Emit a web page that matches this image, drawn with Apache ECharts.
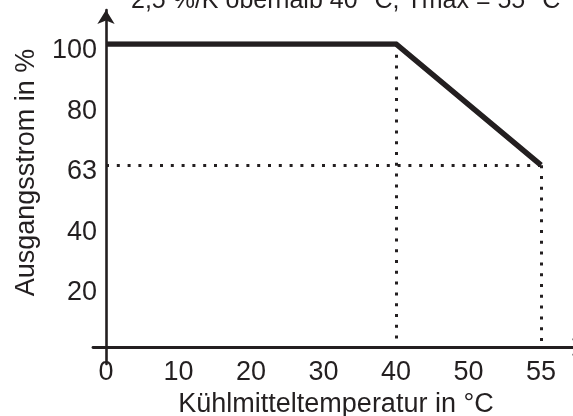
<!DOCTYPE html>
<html><head><meta charset="utf-8">
<script src="https://cdn.jsdelivr.net/npm/echarts@6/dist/echarts.min.js"></script>
<style>html,body{margin:0;padding:0;background:#fff}#c{width:573px;height:416px}</style>
</head><body><div id="c"></div>
<script>
// ---- data ----
const titleText = '2,5 %/K oberhalb 40 °C, Tmax = 55 °C';
const xName = 'Kühlmitteltemperatur in °C';
const yName = 'Ausgangsstrom in %';
const xCategories = ['0', '10', '20', '30', '40', '50', '55'];
const yCategories = ['0', '20', '40', '63', '80', '100'];
const curveTemps = ['0', '40', '55'];
const curveCurrent = ['100', '100', '63'];

// ---- chart ----
const ink = '#231f20';
const font = "'Liberation Sans', Arial, sans-serif";
const curve = curveTemps.map((t, i) => [t, curveCurrent[i]]);
const dotted = { type: [3, 7.8], width: 3, color: ink, cap: 'butt' };

const chart = echarts.init(document.getElementById('c'), null, { renderer: 'canvas' });
chart.setOption({
  animation: false,
  backgroundColor: '#fff',
  textStyle: { fontFamily: font, color: ink },
  title: {
    text: titleText, left: 131, top: -11, padding: 0,
    textStyle: { fontFamily: font, fontSize: 25, fontWeight: 'normal', color: ink }
  },
  grid: [
    { left: 106, right: 32, top: 44, bottom: 69, containLabel: false, outerBoundsMode: 'none' },
    { left: 93, width: 493, top: 10, bottom: 52, containLabel: false, outerBoundsMode: 'none' }
  ],
  xAxis: [
    {
      gridIndex: 0, type: 'category', data: xCategories, boundaryGap: false,
      axisLine: { show: false }, axisTick: { show: false }, splitLine: { show: false },
      axisLabel: { fontSize: 27, color: ink, margin: 12, fontFamily: font },
      name: xName, nameLocation: 'middle', nameGap: 41,
      nameTextStyle: { fontSize: 27, color: ink, fontFamily: font, padding: [0, 0, 0, 25] }
    },
    {
      gridIndex: 1, type: 'value', min: 0, max: 1, offset: -17,
      axisLabel: { show: false }, axisTick: { show: false }, splitLine: { show: false },
      axisLine: { show: true, onZero: false, symbol: ['none', 'arrow'], symbolSize: [13, 14],
        lineStyle: { color: ink, width: 2.8 } }
    }
  ],
  yAxis: [
    {
      gridIndex: 0, type: 'category', data: yCategories, boundaryGap: false,
      axisLine: { show: false }, axisTick: { show: false }, splitLine: { show: false },
      axisLabel: { fontSize: 27, color: ink, margin: 9, fontFamily: font,
        verticalAlign: 'top', lineHeight: 13,
        formatter: v => (v === yCategories[0] ? '' : v) },
      name: yName, nameLocation: 'middle', nameGap: 66,
      nameTextStyle: { fontSize: 27, color: ink, fontFamily: font, padding: [0, 0, 0, 46] }
    },
    {
      gridIndex: 1, type: 'value', min: 0, max: 1, offset: -13,
      axisLabel: { show: false }, axisTick: { show: false }, splitLine: { show: false },
      axisLine: { show: true, onZero: false, symbol: ['none', 'arrow'], symbolSize: [13, 14],
        lineStyle: { color: ink, width: 2.6 } }
    }
  ],
  series: [{
    type: 'line', xAxisIndex: 0, yAxisIndex: 0,
    data: curve, symbol: 'none', silent: true,
    lineStyle: { color: ink, width: 5.5, join: 'miter', cap: 'butt' },
    markLine: {
      silent: true, symbol: 'none', label: { show: false },
      lineStyle: dotted,
      data: [
        [{ coord: [xCategories[0], curveCurrent[2]] }, { coord: [curveTemps[2], curveCurrent[2]] }],
        [{ coord: [curveTemps[1], curveCurrent[1]] }, { coord: [curveTemps[1], yCategories[0]] }],
        [{ coord: [curveTemps[2], curveCurrent[2]] }, { coord: [curveTemps[2], yCategories[0]] }]
      ]
    }
  }]
});
</script>
</body></html>
